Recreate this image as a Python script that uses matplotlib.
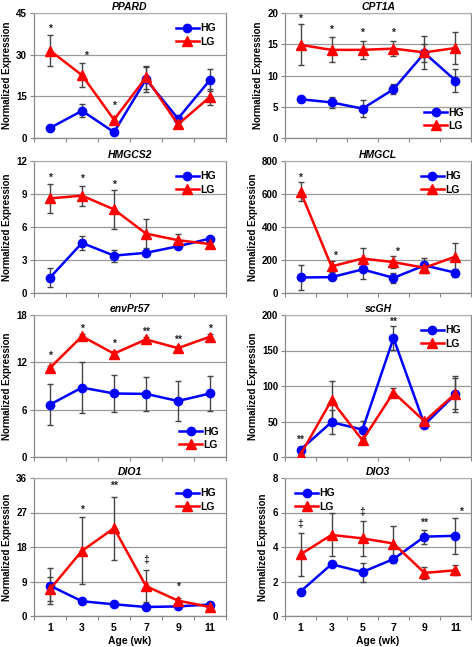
import matplotlib.pyplot as plt

plt.rcParams['font.family'] = ['Liberation Sans', 'DejaVu Sans']
plt.rcParams['font.weight'] = 'bold'

ages = ['1', '3', '5', '7', '9', '11']

# PPARD
ppard_hg = [3.6, 9.8, 2.1, 21.1, 7.0, 20.9]
ppard_hg_err = [0.6, 2.3, 0.6, 4.5, 1.0, 3.8]
ppard_lg = [31.5, 22.6, 6.6, 21.8, 4.9, 14.8]
ppard_lg_err = [5.6, 4.3, 0.8, 4.3, 0.9, 2.9]
ppard_sig = [(0, 39.3, '*'), (1.12, 29.5, '*'), (2, 11.6, '*')]

# CPT1A
cpt1a_hg = [6.2, 5.7, 4.7, 7.8, 13.6, 9.2]
cpt1a_hg_err = [0.4, 0.9, 1.4, 0.8, 1.5, 1.9]
cpt1a_lg = [14.9, 14.1, 14.1, 14.3, 13.7, 14.4]
cpt1a_lg_err = [3.3, 2.0, 1.5, 1.2, 2.7, 2.5]
cpt1a_sig = [(0, 19.1, '*'), (1, 17.3, '*'), (2, 16.9, '*'), (3, 16.9, '*')]

# HMGCS2
hmgcs2_hg = [1.4, 4.55, 3.4, 3.65, 4.25, 4.95]
hmgcs2_hg_err = [0.85, 0.6, 0.55, 0.15, 0.2, 0.15]
hmgcs2_lg = [8.6, 8.85, 7.6, 5.4, 4.8, 4.45]
hmgcs2_lg_err = [1.3, 0.9, 1.75, 1.35, 0.55, 0.2]
hmgcs2_sig = [(0, 10.5, '*'), (1, 10.4, '*'), (2, 9.8, '*')]

# HMGCL
hmgcl_hg = [94, 96, 143, 92, 167, 123]
hmgcl_hg_err = [78, 15, 60, 30, 45, 25]
hmgcl_lg = [615, 161, 209, 187, 153, 221]
hmgcl_lg_err = [58, 35, 65, 38, 20, 80]
hmgcl_sig = [(0, 700, '*'), (1.12, 228, '*'), (3.1, 252, '*')]

# envPr57
envpr57_hg = [6.65, 8.8, 8.05, 8.0, 7.1, 8.05]
envpr57_hg_err = [2.6, 3.2, 2.4, 2.2, 2.5, 2.2]
envpr57_lg = [11.3, 15.3, 13.1, 14.9, 13.8, 15.25]
envpr57_lg_err = [0.2, 0.25, 0.3, 0.3, 0.3, 0.3]
envpr57_sig = [(0, 12.8, '*'), (1, 16.2, '*'), (2, 14.4, '*'), (3, 15.9, '**'),
               (4, 14.8, '**'), (5, 16.2, '*')]

# scGH
scgh_hg = [10.4, 49, 38.6, 167.5, 45.6, 88.5]
scgh_hg_err = [3, 17, 12, 16.5, 3, 25]
scgh_lg = [3.3, 80, 23.5, 90.8, 50.4, 89.4]
scgh_lg_err = [1, 27, 3, 6, 3, 22]
scgh_sig = [(0, 24, '**'), (3, 191, '**')]

# DIO1
dio1_hg = [7.9, 3.85, 3.05, 2.35, 2.5, 3.0]
dio1_hg_err = [4.7, 0.4, 0.5, 0.3, 0.3, 0.3]
dio1_lg = [7.0, 17.0, 22.9, 7.8, 4.0, 2.35]
dio1_lg_err = [3.2, 8.7, 8.2, 4.2, 0.6, 0.3]
dio1_sig = [(1, 27.8, '*'), (2, 33.9, '**'), (3, 14.5, '\u2021'), (4, 7.6, '*')]

# DIO3
dio3_hg = [1.42, 3.0, 2.55, 3.3, 4.6, 4.65]
dio3_hg_err = [0.1, 0.1, 0.55, 0.2, 0.4, 1.05]
dio3_lg = [3.57, 4.7, 4.5, 4.2, 2.5, 2.65]
dio3_lg_err = [1.25, 1.25, 1.0, 1.0, 0.35, 0.3]
dio3_sig = [(0, 5.35, '\u2021'), (2, 6.0, '\u2021'), (4, 5.4, '**'), (5.18, 6.05, '*')]

panels = [
    ('PPARD', ppard_hg, ppard_hg_err, ppard_lg, ppard_lg_err, ppard_sig, 45, 15, 'upper right'),
    ('CPT1A', cpt1a_hg, cpt1a_hg_err, cpt1a_lg, cpt1a_lg_err, cpt1a_sig, 20, 5, 'lower right'),
    ('HMGCS2', hmgcs2_hg, hmgcs2_hg_err, hmgcs2_lg, hmgcs2_lg_err, hmgcs2_sig, 12, 3, 'upper right'),
    ('HMGCL', hmgcl_hg, hmgcl_hg_err, hmgcl_lg, hmgcl_lg_err, hmgcl_sig, 800, 200, 'upper right'),
    ('envPr57', envpr57_hg, envpr57_hg_err, envpr57_lg, envpr57_lg_err, envpr57_sig, 18, 6, 'lower right'),
    ('scGH', scgh_hg, scgh_hg_err, scgh_lg, scgh_lg_err, scgh_sig, 200, 50, 'upper right'),
    ('DIO1', dio1_hg, dio1_hg_err, dio1_lg, dio1_lg_err, dio1_sig, 36, 9, 'upper right'),
    ('DIO3', dio3_hg, dio3_hg_err, dio3_lg, dio3_lg_err, dio3_sig, 8, 2, 'upper left'),
]

# axes boxes in pixels (left, top, right, bottom)
W, H = 472, 647
cols = [(34, 226), (285, 471)]
rows = [(13, 138), (161, 293), (315, 457), (478, 616)]

fig = plt.figure(figsize=(W / 100, H / 100), dpi=100)
xs = [i + 0.5 for i in range(len(ages))]

for n, (name, hg, hg_err, lg, lg_err, sig, ymax, ystep, legloc) in enumerate(panels):
    r, c = divmod(n, 2)
    x0, x1 = cols[c]
    y0, y1 = rows[r]
    ax = fig.add_axes([x0 / W, 1 - y1 / H, (x1 - x0) / W, (y1 - y0) / H])

    ax.errorbar(xs, lg, yerr=lg_err, fmt='none', ecolor='#444444', elinewidth=1,
                capsize=2.5, capthick=1, zorder=2)
    ax.errorbar(xs, hg, yerr=hg_err, fmt='none', ecolor='#444444', elinewidth=1,
                capsize=2.5, capthick=1, zorder=2)
    ax.plot(xs, hg, color='#0000ff', marker='o', markersize=6, lw=1.8,
            label='HG', zorder=3)
    ax.plot(xs, lg, color='#ff0000', marker='^', markersize=6.5, lw=1.8,
            label='LG', zorder=4)

    for xi, yv, txt in sig:
        ax.text(xi + 0.5, yv, txt, ha='center', va='center', fontsize=7.5,
                fontweight='bold', color='#222222')

    ax.set_xlim(0, 6)
    ax.set_ylim(0, ymax)
    ax.set_yticks([ystep * k for k in range(int(round(ymax / ystep)) + 1)])
    ax.yaxis.grid(True, color='#9a9a9a', lw=0.9)
    ax.set_axisbelow(True)
    ax.set_xticks(range(7))
    ax.set_xticklabels([])
    ax.set_xticks(xs, minor=True)
    ax.tick_params(axis='x', which='major', length=3, color='#888888', direction='out')
    ax.tick_params(axis='x', which='minor', length=0, labelsize=7.5, pad=5)
    ax.tick_params(axis='y', length=3, color='#888888', labelsize=7, pad=2)
    if r == 3:
        ax.set_xticklabels(ages, minor=True, fontweight='bold')
        ax.set_xlabel('Age (wk)', fontsize=7.5, fontweight='bold', labelpad=2)
    for sp in ax.spines.values():
        sp.set_color('#8a8a8a')
        sp.set_linewidth(0.9)
    ax.spines['top'].set_color('#b0b0b0')

    ax.set_title(name, fontsize=7.5, fontweight='bold', style='italic', pad=2)
    ax.set_ylabel('Normalized Expression', fontsize=7, fontweight='bold', labelpad=3)

    pad = 0.3 if legloc == 'lower right' else 0.6
    leg = ax.legend(loc=legloc, frameon=False, fontsize=7.5, handlelength=2.2,
                    handletextpad=0.1, labelspacing=0.3, borderaxespad=pad)
    for t in leg.get_texts():
        t.set_fontweight('bold')

fig.savefig('out.png', dpi=100)
